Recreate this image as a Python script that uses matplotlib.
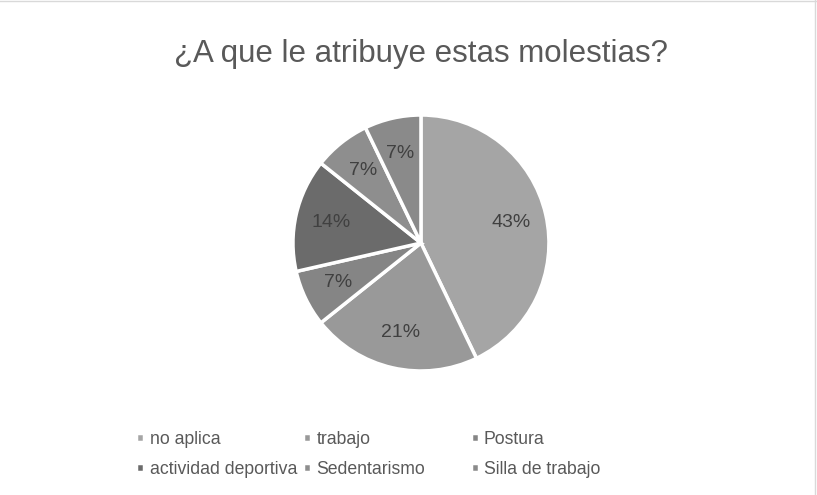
import matplotlib
matplotlib.use("Agg")
import matplotlib.pyplot as plt

plt.rcParams['font.family'] = ['Liberation Sans', 'DejaVu Sans']

labels = ["no aplica", "trabajo", "Postura", "actividad deportiva", "Sedentarismo", "Silla de trabajo"]
counts = [6, 3, 1, 2, 1, 1]
colors = ["#a5a5a5", "#999999", "#858585", "#6b6b6b", "#8e8e8e", "#8a8a8a"]

fig = plt.figure(figsize=(8.17, 4.95), dpi=100)
ax = fig.add_axes([0.3586, 0.2505, 0.3133, 0.5172])

wedges, texts, autotexts = ax.pie(
    counts, colors=colors, startangle=90, counterclock=False,
    autopct=lambda p: "%d%%" % round(p), pctdistance=0.72,
    wedgeprops=dict(edgecolor="white", linewidth=2.5),
    textprops=dict(color="#404040", fontsize=14))
ax.set_xlim(-1, 1)
ax.set_ylim(-1, 1)

fig.text(0.515, 0.89, "¿A que le atribuye estas molestias?", ha="center", va="center",
         fontsize=22.5, color="#595959")

# legend laid out row by row, three columns
col_x = [0.167, 0.371, 0.576]
for c in range(3):
    idx = [c, c + 3]
    fig.legend([wedges[i] for i in idx], [labels[i] for i in idx], loc="upper left",
               bbox_to_anchor=(col_x[c], 0.13), frameon=False, fontsize=12.7,
               labelcolor="#595959", handlelength=0.45, handleheight=0.45,
               handletextpad=0.3, labelspacing=0.75, borderaxespad=0, borderpad=0)

# thin chart frame
fig.add_artist(plt.Line2D([0, 1], [0.998, 0.998], color="#d9d9d9", lw=1, transform=fig.transFigure))
fig.add_artist(plt.Line2D([0.998, 0.998], [0, 1], color="#d9d9d9", lw=1, transform=fig.transFigure))

fig.savefig("out.png", dpi=100, facecolor="white")
